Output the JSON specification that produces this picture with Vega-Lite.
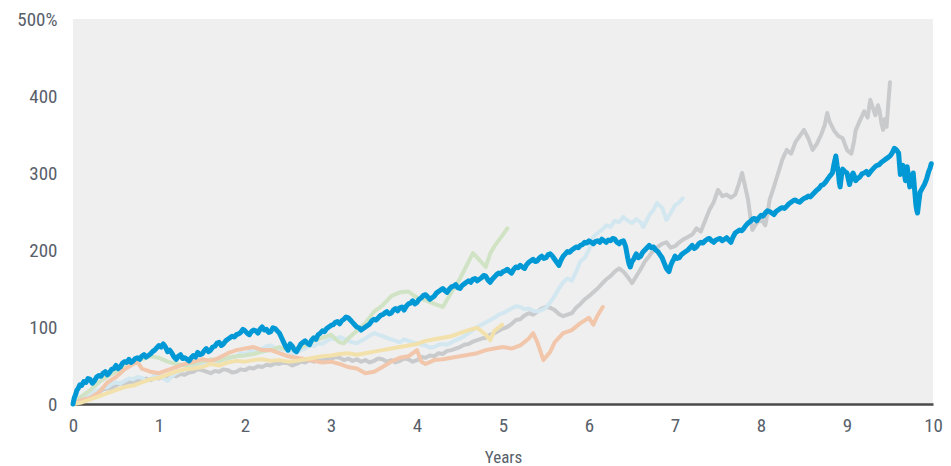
{
"$schema":"https://vega.github.io/schema/vega-lite/v6.json",
"width":860,"height":385,
"autosize":{"type":"none"},
"padding":{"left":73,"top":19,"right":18,"bottom":62},
"background":"#ffffff",
"config":{"view":{"fill":"#efefef","stroke":null},"font":"Roboto Condensed, DejaVu Sans Condensed, Roboto"},
"datasets":{
"pale":[
{"s":"gray","t":0,"v":0},{"s":"gray","t":0.05,"v":4},{"s":"gray","t":0.1,"v":6},{"s":"gray","t":0.15,"v":9},{"s":"gray","t":0.2,"v":10},{"s":"gray","t":0.25,"v":14},{"s":"gray","t":0.3,"v":15},{"s":"gray","t":0.35,"v":19},{"s":"gray","t":0.4,"v":20},{"s":"gray","t":0.45,"v":21},{"s":"gray","t":0.5,"v":24},{"s":"gray","t":0.55,"v":27},{"s":"gray","t":0.6,"v":26},{"s":"gray","t":0.65,"v":29},{"s":"gray","t":0.7,"v":28},{"s":"gray","t":0.75,"v":31},{"s":"gray","t":0.8,"v":30},{"s":"gray","t":0.85,"v":33},{"s":"gray","t":0.9,"v":31},{"s":"gray","t":0.95,"v":34},{"s":"gray","t":1.0,"v":33},{"s":"gray","t":1.05,"v":36},{"s":"gray","t":1.1,"v":34},{"s":"gray","t":1.15,"v":37},{"s":"gray","t":1.2,"v":36},{"s":"gray","t":1.25,"v":39},{"s":"gray","t":1.3,"v":38},{"s":"gray","t":1.35,"v":41},{"s":"gray","t":1.4,"v":42},{"s":"gray","t":1.45,"v":45},{"s":"gray","t":1.5,"v":44},{"s":"gray","t":1.55,"v":42},{"s":"gray","t":1.6,"v":40},{"s":"gray","t":1.65,"v":43},{"s":"gray","t":1.7,"v":42},{"s":"gray","t":1.75,"v":45},{"s":"gray","t":1.8,"v":44},{"s":"gray","t":1.85,"v":41},{"s":"gray","t":1.9,"v":42},{"s":"gray","t":1.95,"v":45},{"s":"gray","t":2.0,"v":44},{"s":"gray","t":2.05,"v":47},{"s":"gray","t":2.1,"v":46},{"s":"gray","t":2.15,"v":49},{"s":"gray","t":2.2,"v":48},{"s":"gray","t":2.25,"v":51},{"s":"gray","t":2.3,"v":50},{"s":"gray","t":2.35,"v":53},{"s":"gray","t":2.4,"v":52},{"s":"gray","t":2.45,"v":54},{"s":"gray","t":2.5,"v":53},{"s":"gray","t":2.55,"v":50},{"s":"gray","t":2.6,"v":52},{"s":"gray","t":2.65,"v":55},{"s":"gray","t":2.7,"v":54},{"s":"gray","t":2.75,"v":57},{"s":"gray","t":2.8,"v":55},{"s":"gray","t":2.85,"v":58},{"s":"gray","t":2.9,"v":56},{"s":"gray","t":2.95,"v":59},{"s":"gray","t":3.0,"v":58},{"s":"gray","t":3.05,"v":61},{"s":"gray","t":3.1,"v":60},{"s":"gray","t":3.15,"v":57},{"s":"gray","t":3.2,"v":59},{"s":"gray","t":3.25,"v":56},{"s":"gray","t":3.3,"v":58},{"s":"gray","t":3.35,"v":55},{"s":"gray","t":3.4,"v":57},{"s":"gray","t":3.45,"v":54},{"s":"gray","t":3.5,"v":56},{"s":"gray","t":3.55,"v":59},{"s":"gray","t":3.6,"v":58},{"s":"gray","t":3.65,"v":55},{"s":"gray","t":3.7,"v":57},{"s":"gray","t":3.75,"v":54},{"s":"gray","t":3.8,"v":56},{"s":"gray","t":3.85,"v":59},{"s":"gray","t":3.9,"v":58},{"s":"gray","t":3.95,"v":55},{"s":"gray","t":4.0,"v":57},{"s":"gray","t":4.05,"v":61},{"s":"gray","t":4.1,"v":60},{"s":"gray","t":4.15,"v":63},{"s":"gray","t":4.2,"v":62},{"s":"gray","t":4.25,"v":66},{"s":"gray","t":4.3,"v":65},{"s":"gray","t":4.35,"v":69},{"s":"gray","t":4.4,"v":70},{"s":"gray","t":4.45,"v":72},{"s":"gray","t":4.5,"v":74},{"s":"gray","t":4.55,"v":77},{"s":"gray","t":4.6,"v":78},{"s":"gray","t":4.65,"v":81},{"s":"gray","t":4.7,"v":83},{"s":"gray","t":4.75,"v":85},{"s":"gray","t":4.8,"v":86},{"s":"gray","t":4.85,"v":90},{"s":"gray","t":4.9,"v":92},{"s":"gray","t":4.95,"v":95},{"s":"gray","t":5.0,"v":98},{"s":"gray","t":5.05,"v":100},{"s":"gray","t":5.1,"v":104},{"s":"gray","t":5.15,"v":109},{"s":"gray","t":5.2,"v":110},{"s":"gray","t":5.25,"v":115},{"s":"gray","t":5.3,"v":118},{"s":"gray","t":5.35,"v":116},{"s":"gray","t":5.4,"v":120},{"s":"gray","t":5.45,"v":124},{"s":"gray","t":5.5,"v":126},{"s":"gray","t":5.55,"v":125},{"s":"gray","t":5.6,"v":122},{"s":"gray","t":5.65,"v":117},{"s":"gray","t":5.7,"v":114},{"s":"gray","t":5.75,"v":116},{"s":"gray","t":5.8,"v":118},{"s":"gray","t":5.85,"v":125},{"s":"gray","t":5.9,"v":130},{"s":"gray","t":5.95,"v":136},{"s":"gray","t":6.0,"v":140},{"s":"gray","t":6.05,"v":145},{"s":"gray","t":6.1,"v":150},{"s":"gray","t":6.15,"v":156},{"s":"gray","t":6.2,"v":162},{"s":"gray","t":6.25,"v":166},{"s":"gray","t":6.3,"v":172},{"s":"gray","t":6.35,"v":176},{"s":"gray","t":6.4,"v":172},{"s":"gray","t":6.45,"v":165},{"s":"gray","t":6.5,"v":157},{"s":"gray","t":6.55,"v":166},{"s":"gray","t":6.6,"v":175},{"s":"gray","t":6.65,"v":185},{"s":"gray","t":6.7,"v":192},{"s":"gray","t":6.75,"v":200},{"s":"gray","t":6.8,"v":204},{"s":"gray","t":6.85,"v":208},{"s":"gray","t":6.9,"v":210},{"s":"gray","t":6.95,"v":203},{"s":"gray","t":7.0,"v":205},{"s":"gray","t":7.05,"v":210},{"s":"gray","t":7.1,"v":214},{"s":"gray","t":7.15,"v":217},{"s":"gray","t":7.2,"v":220},{"s":"gray","t":7.25,"v":228},{"s":"gray","t":7.3,"v":224},{"s":"gray","t":7.35,"v":238},{"s":"gray","t":7.4,"v":252},{"s":"gray","t":7.45,"v":262},{"s":"gray","t":7.5,"v":278},{"s":"gray","t":7.55,"v":270},{"s":"gray","t":7.6,"v":272},{"s":"gray","t":7.65,"v":268},{"s":"gray","t":7.7,"v":272},{"s":"gray","t":7.74,"v":285},{"s":"gray","t":7.78,"v":300},{"s":"gray","t":7.82,"v":280},{"s":"gray","t":7.85,"v":265},{"s":"gray","t":7.88,"v":240},{"s":"gray","t":7.9,"v":226},{"s":"gray","t":7.95,"v":235},{"s":"gray","t":8.0,"v":240},{"s":"gray","t":8.05,"v":232},{"s":"gray","t":8.08,"v":250},{"s":"gray","t":8.1,"v":265},{"s":"gray","t":8.15,"v":282},{"s":"gray","t":8.2,"v":300},{"s":"gray","t":8.25,"v":318},{"s":"gray","t":8.3,"v":330},{"s":"gray","t":8.35,"v":325},{"s":"gray","t":8.4,"v":340},{"s":"gray","t":8.45,"v":348},{"s":"gray","t":8.5,"v":356},{"s":"gray","t":8.55,"v":345},{"s":"gray","t":8.6,"v":330},{"s":"gray","t":8.65,"v":338},{"s":"gray","t":8.7,"v":350},{"s":"gray","t":8.74,"v":362},{"s":"gray","t":8.77,"v":378},{"s":"gray","t":8.8,"v":366},{"s":"gray","t":8.85,"v":355},{"s":"gray","t":8.9,"v":348},{"s":"gray","t":8.95,"v":345},{"s":"gray","t":9.0,"v":330},{"s":"gray","t":9.05,"v":325},{"s":"gray","t":9.08,"v":340},{"s":"gray","t":9.1,"v":355},{"s":"gray","t":9.15,"v":368},{"s":"gray","t":9.2,"v":380},{"s":"gray","t":9.24,"v":372},{"s":"gray","t":9.27,"v":395},{"s":"gray","t":9.3,"v":385},{"s":"gray","t":9.33,"v":375},{"s":"gray","t":9.36,"v":388},{"s":"gray","t":9.38,"v":380},{"s":"gray","t":9.4,"v":365},{"s":"gray","t":9.42,"v":356},{"s":"gray","t":9.44,"v":370},{"s":"gray","t":9.46,"v":360},{"s":"gray","t":9.48,"v":390},{"s":"gray","t":9.5,"v":418},
{"s":"lblue","t":0,"v":0},{"s":"lblue","t":0.05,"v":5},{"s":"lblue","t":0.1,"v":8},{"s":"lblue","t":0.15,"v":11},{"s":"lblue","t":0.2,"v":12},{"s":"lblue","t":0.25,"v":16},{"s":"lblue","t":0.3,"v":18},{"s":"lblue","t":0.35,"v":21},{"s":"lblue","t":0.4,"v":22},{"s":"lblue","t":0.45,"v":26},{"s":"lblue","t":0.5,"v":28},{"s":"lblue","t":0.55,"v":27},{"s":"lblue","t":0.6,"v":30},{"s":"lblue","t":0.65,"v":33},{"s":"lblue","t":0.7,"v":32},{"s":"lblue","t":0.75,"v":35},{"s":"lblue","t":0.8,"v":34},{"s":"lblue","t":0.85,"v":30},{"s":"lblue","t":0.9,"v":32},{"s":"lblue","t":0.95,"v":38},{"s":"lblue","t":1.0,"v":36},{"s":"lblue","t":1.05,"v":33},{"s":"lblue","t":1.1,"v":30},{"s":"lblue","t":1.15,"v":36},{"s":"lblue","t":1.2,"v":40},{"s":"lblue","t":1.25,"v":43},{"s":"lblue","t":1.3,"v":45},{"s":"lblue","t":1.35,"v":46},{"s":"lblue","t":1.4,"v":48},{"s":"lblue","t":1.45,"v":51},{"s":"lblue","t":1.5,"v":52},{"s":"lblue","t":1.55,"v":55},{"s":"lblue","t":1.6,"v":56},{"s":"lblue","t":1.65,"v":53},{"s":"lblue","t":1.7,"v":55},{"s":"lblue","t":1.75,"v":59},{"s":"lblue","t":1.8,"v":58},{"s":"lblue","t":1.85,"v":61},{"s":"lblue","t":1.9,"v":62},{"s":"lblue","t":1.95,"v":66},{"s":"lblue","t":2.0,"v":65},{"s":"lblue","t":2.05,"v":68},{"s":"lblue","t":2.1,"v":70},{"s":"lblue","t":2.15,"v":69},{"s":"lblue","t":2.2,"v":72},{"s":"lblue","t":2.25,"v":75},{"s":"lblue","t":2.3,"v":76},{"s":"lblue","t":2.35,"v":73},{"s":"lblue","t":2.4,"v":70},{"s":"lblue","t":2.45,"v":71},{"s":"lblue","t":2.5,"v":68},{"s":"lblue","t":2.55,"v":65},{"s":"lblue","t":2.6,"v":66},{"s":"lblue","t":2.65,"v":70},{"s":"lblue","t":2.7,"v":72},{"s":"lblue","t":2.75,"v":76},{"s":"lblue","t":2.8,"v":75},{"s":"lblue","t":2.85,"v":79},{"s":"lblue","t":2.9,"v":78},{"s":"lblue","t":2.95,"v":82},{"s":"lblue","t":3.0,"v":85},{"s":"lblue","t":3.05,"v":84},{"s":"lblue","t":3.1,"v":87},{"s":"lblue","t":3.15,"v":85},{"s":"lblue","t":3.2,"v":82},{"s":"lblue","t":3.25,"v":80},{"s":"lblue","t":3.3,"v":79},{"s":"lblue","t":3.35,"v":82},{"s":"lblue","t":3.4,"v":85},{"s":"lblue","t":3.45,"v":89},{"s":"lblue","t":3.5,"v":92},{"s":"lblue","t":3.55,"v":90},{"s":"lblue","t":3.6,"v":88},{"s":"lblue","t":3.65,"v":86},{"s":"lblue","t":3.7,"v":84},{"s":"lblue","t":3.75,"v":82},{"s":"lblue","t":3.8,"v":80},{"s":"lblue","t":3.85,"v":84},{"s":"lblue","t":3.9,"v":82},{"s":"lblue","t":3.95,"v":80},{"s":"lblue","t":4.0,"v":79},{"s":"lblue","t":4.05,"v":77},{"s":"lblue","t":4.1,"v":76},{"s":"lblue","t":4.15,"v":73},{"s":"lblue","t":4.2,"v":74},{"s":"lblue","t":4.25,"v":77},{"s":"lblue","t":4.3,"v":78},{"s":"lblue","t":4.35,"v":77},{"s":"lblue","t":4.4,"v":80},{"s":"lblue","t":4.45,"v":83},{"s":"lblue","t":4.5,"v":85},{"s":"lblue","t":4.55,"v":88},{"s":"lblue","t":4.6,"v":92},{"s":"lblue","t":4.65,"v":96},{"s":"lblue","t":4.7,"v":100},{"s":"lblue","t":4.75,"v":103},{"s":"lblue","t":4.8,"v":106},{"s":"lblue","t":4.85,"v":109},{"s":"lblue","t":4.9,"v":112},{"s":"lblue","t":4.95,"v":116},{"s":"lblue","t":5.0,"v":118},{"s":"lblue","t":5.05,"v":121},{"s":"lblue","t":5.1,"v":124},{"s":"lblue","t":5.15,"v":127},{"s":"lblue","t":5.2,"v":126},{"s":"lblue","t":5.25,"v":123},{"s":"lblue","t":5.3,"v":124},{"s":"lblue","t":5.35,"v":121},{"s":"lblue","t":5.4,"v":120},{"s":"lblue","t":5.45,"v":122},{"s":"lblue","t":5.5,"v":125},{"s":"lblue","t":5.55,"v":132},{"s":"lblue","t":5.6,"v":140},{"s":"lblue","t":5.65,"v":150},{"s":"lblue","t":5.7,"v":158},{"s":"lblue","t":5.75,"v":163},{"s":"lblue","t":5.8,"v":160},{"s":"lblue","t":5.85,"v":172},{"s":"lblue","t":5.9,"v":185},{"s":"lblue","t":5.95,"v":190},{"s":"lblue","t":6.0,"v":200},{"s":"lblue","t":6.05,"v":217},{"s":"lblue","t":6.1,"v":222},{"s":"lblue","t":6.15,"v":226},{"s":"lblue","t":6.2,"v":232},{"s":"lblue","t":6.25,"v":230},{"s":"lblue","t":6.3,"v":238},{"s":"lblue","t":6.35,"v":236},{"s":"lblue","t":6.4,"v":243},{"s":"lblue","t":6.45,"v":238},{"s":"lblue","t":6.5,"v":235},{"s":"lblue","t":6.55,"v":240},{"s":"lblue","t":6.6,"v":236},{"s":"lblue","t":6.63,"v":230},{"s":"lblue","t":6.67,"v":238},{"s":"lblue","t":6.7,"v":245},{"s":"lblue","t":6.75,"v":252},{"s":"lblue","t":6.79,"v":261},{"s":"lblue","t":6.85,"v":255},{"s":"lblue","t":6.9,"v":239},{"s":"lblue","t":6.95,"v":248},{"s":"lblue","t":7.0,"v":258},{"s":"lblue","t":7.05,"v":262},{"s":"lblue","t":7.09,"v":267},
{"s":"green","t":0,"v":0},{"s":"green","t":0.1,"v":10},{"s":"green","t":0.2,"v":18},{"s":"green","t":0.3,"v":28},{"s":"green","t":0.4,"v":36},{"s":"green","t":0.5,"v":42},{"s":"green","t":0.6,"v":48},{"s":"green","t":0.7,"v":55},{"s":"green","t":0.8,"v":58},{"s":"green","t":0.9,"v":62},{"s":"green","t":1.0,"v":60},{"s":"green","t":1.1,"v":55},{"s":"green","t":1.2,"v":52},{"s":"green","t":1.3,"v":50},{"s":"green","t":1.4,"v":52},{"s":"green","t":1.5,"v":55},{"s":"green","t":1.6,"v":58},{"s":"green","t":1.7,"v":56},{"s":"green","t":1.8,"v":60},{"s":"green","t":1.9,"v":62},{"s":"green","t":2.0,"v":63},{"s":"green","t":2.1,"v":65},{"s":"green","t":2.2,"v":68},{"s":"green","t":2.3,"v":70},{"s":"green","t":2.4,"v":74},{"s":"green","t":2.5,"v":70},{"s":"green","t":2.6,"v":72},{"s":"green","t":2.7,"v":76},{"s":"green","t":2.8,"v":82},{"s":"green","t":2.9,"v":86},{"s":"green","t":3.0,"v":90},{"s":"green","t":3.1,"v":80},{"s":"green","t":3.15,"v":79},{"s":"green","t":3.2,"v":85},{"s":"green","t":3.3,"v":95},{"s":"green","t":3.4,"v":105},{"s":"green","t":3.5,"v":120},{"s":"green","t":3.6,"v":128},{"s":"green","t":3.7,"v":140},{"s":"green","t":3.8,"v":145},{"s":"green","t":3.9,"v":146},{"s":"green","t":4.0,"v":138},{"s":"green","t":4.1,"v":135},{"s":"green","t":4.2,"v":130},{"s":"green","t":4.3,"v":126},{"s":"green","t":4.4,"v":145},{"s":"green","t":4.5,"v":163},{"s":"green","t":4.6,"v":185},{"s":"green","t":4.65,"v":196},{"s":"green","t":4.7,"v":190},{"s":"green","t":4.8,"v":178},{"s":"green","t":4.85,"v":195},{"s":"green","t":4.9,"v":205},{"s":"green","t":5.0,"v":220},{"s":"green","t":5.05,"v":228},
{"s":"orange","t":0,"v":0},{"s":"orange","t":0.1,"v":5},{"s":"orange","t":0.2,"v":8},{"s":"orange","t":0.3,"v":15},{"s":"orange","t":0.4,"v":28},{"s":"orange","t":0.5,"v":35},{"s":"orange","t":0.6,"v":45},{"s":"orange","t":0.7,"v":52},{"s":"orange","t":0.75,"v":55},{"s":"orange","t":0.8,"v":46},{"s":"orange","t":0.9,"v":42},{"s":"orange","t":1.0,"v":40},{"s":"orange","t":1.1,"v":44},{"s":"orange","t":1.2,"v":48},{"s":"orange","t":1.3,"v":52},{"s":"orange","t":1.4,"v":55},{"s":"orange","t":1.5,"v":58},{"s":"orange","t":1.6,"v":56},{"s":"orange","t":1.7,"v":60},{"s":"orange","t":1.8,"v":66},{"s":"orange","t":1.9,"v":70},{"s":"orange","t":2.0,"v":72},{"s":"orange","t":2.1,"v":74},{"s":"orange","t":2.2,"v":70},{"s":"orange","t":2.3,"v":70},{"s":"orange","t":2.4,"v":66},{"s":"orange","t":2.5,"v":62},{"s":"orange","t":2.6,"v":60},{"s":"orange","t":2.7,"v":58},{"s":"orange","t":2.8,"v":56},{"s":"orange","t":2.9,"v":54},{"s":"orange","t":3.0,"v":55},{"s":"orange","t":3.1,"v":52},{"s":"orange","t":3.2,"v":48},{"s":"orange","t":3.3,"v":46},{"s":"orange","t":3.4,"v":40},{"s":"orange","t":3.5,"v":42},{"s":"orange","t":3.6,"v":48},{"s":"orange","t":3.7,"v":55},{"s":"orange","t":3.8,"v":60},{"s":"orange","t":3.9,"v":62},{"s":"orange","t":4.0,"v":70},{"s":"orange","t":4.05,"v":55},{"s":"orange","t":4.1,"v":52},{"s":"orange","t":4.2,"v":57},{"s":"orange","t":4.3,"v":58},{"s":"orange","t":4.4,"v":60},{"s":"orange","t":4.5,"v":62},{"s":"orange","t":4.6,"v":64},{"s":"orange","t":4.7,"v":66},{"s":"orange","t":4.8,"v":70},{"s":"orange","t":4.9,"v":72},{"s":"orange","t":5.0,"v":74},{"s":"orange","t":5.1,"v":72},{"s":"orange","t":5.2,"v":76},{"s":"orange","t":5.3,"v":85},{"s":"orange","t":5.35,"v":92},{"s":"orange","t":5.4,"v":80},{"s":"orange","t":5.47,"v":57},{"s":"orange","t":5.55,"v":68},{"s":"orange","t":5.6,"v":80},{"s":"orange","t":5.7,"v":92},{"s":"orange","t":5.8,"v":96},{"s":"orange","t":5.9,"v":105},{"s":"orange","t":6.0,"v":112},{"s":"orange","t":6.05,"v":103},{"s":"orange","t":6.1,"v":115},{"s":"orange","t":6.16,"v":126},
{"s":"yellow","t":0,"v":0},{"s":"yellow","t":0.1,"v":2},{"s":"yellow","t":0.2,"v":6},{"s":"yellow","t":0.3,"v":10},{"s":"yellow","t":0.4,"v":14},{"s":"yellow","t":0.5,"v":18},{"s":"yellow","t":0.6,"v":22},{"s":"yellow","t":0.7,"v":24},{"s":"yellow","t":0.8,"v":28},{"s":"yellow","t":0.9,"v":32},{"s":"yellow","t":1.0,"v":34},{"s":"yellow","t":1.1,"v":38},{"s":"yellow","t":1.2,"v":42},{"s":"yellow","t":1.3,"v":45},{"s":"yellow","t":1.4,"v":46},{"s":"yellow","t":1.5,"v":48},{"s":"yellow","t":1.6,"v":52},{"s":"yellow","t":1.7,"v":50},{"s":"yellow","t":1.8,"v":54},{"s":"yellow","t":1.9,"v":56},{"s":"yellow","t":2.0,"v":55},{"s":"yellow","t":2.1,"v":57},{"s":"yellow","t":2.2,"v":58},{"s":"yellow","t":2.3,"v":56},{"s":"yellow","t":2.4,"v":57},{"s":"yellow","t":2.5,"v":55},{"s":"yellow","t":2.6,"v":56},{"s":"yellow","t":2.7,"v":58},{"s":"yellow","t":2.8,"v":60},{"s":"yellow","t":2.9,"v":62},{"s":"yellow","t":3.0,"v":63},{"s":"yellow","t":3.1,"v":65},{"s":"yellow","t":3.2,"v":66},{"s":"yellow","t":3.3,"v":64},{"s":"yellow","t":3.4,"v":66},{"s":"yellow","t":3.5,"v":68},{"s":"yellow","t":3.6,"v":70},{"s":"yellow","t":3.7,"v":72},{"s":"yellow","t":3.8,"v":74},{"s":"yellow","t":3.9,"v":76},{"s":"yellow","t":4.0,"v":78},{"s":"yellow","t":4.1,"v":82},{"s":"yellow","t":4.2,"v":84},{"s":"yellow","t":4.3,"v":86},{"s":"yellow","t":4.4,"v":88},{"s":"yellow","t":4.5,"v":92},{"s":"yellow","t":4.6,"v":96},{"s":"yellow","t":4.7,"v":99},{"s":"yellow","t":4.8,"v":90},{"s":"yellow","t":4.85,"v":83},{"s":"yellow","t":4.9,"v":95},{"s":"yellow","t":4.99,"v":103}
],
"main":[
{"t":0,"v":0},{"t":0.015,"v":8},{"t":0.03,"v":12},{"t":0.045,"v":18},{"t":0.06,"v":20},{"t":0.08,"v":25},{"t":0.1,"v":24},{"t":0.125,"v":29},{"t":0.15,"v":28},{"t":0.175,"v":33},{"t":0.2,"v":32},{"t":0.225,"v":27},{"t":0.25,"v":30},{"t":0.275,"v":35},{"t":0.3,"v":37},{"t":0.325,"v":36},{"t":0.35,"v":40},{"t":0.375,"v":42},{"t":0.4,"v":38},{"t":0.425,"v":41},{"t":0.45,"v":45},{"t":0.475,"v":46},{"t":0.5,"v":50},{"t":0.525,"v":46},{"t":0.55,"v":48},{"t":0.575,"v":53},{"t":0.6,"v":55},{"t":0.625,"v":54},{"t":0.65,"v":58},{"t":0.675,"v":54},{"t":0.7,"v":56},{"t":0.725,"v":59},{"t":0.75,"v":60},{"t":0.775,"v":58},{"t":0.8,"v":62},{"t":0.825,"v":64},{"t":0.85,"v":61},{"t":0.875,"v":63},{"t":0.9,"v":65},{"t":0.925,"v":68},{"t":0.95,"v":70},{"t":0.975,"v":73},{"t":1.0,"v":76},{"t":1.025,"v":74},{"t":1.05,"v":78},{"t":1.075,"v":74},{"t":1.1,"v":68},{"t":1.125,"v":70},{"t":1.15,"v":66},{"t":1.175,"v":61},{"t":1.2,"v":58},{"t":1.225,"v":62},{"t":1.25,"v":64},{"t":1.275,"v":59},{"t":1.3,"v":60},{"t":1.325,"v":58},{"t":1.35,"v":56},{"t":1.375,"v":60},{"t":1.4,"v":63},{"t":1.425,"v":61},{"t":1.45,"v":67},{"t":1.475,"v":64},{"t":1.5,"v":65},{"t":1.525,"v":69},{"t":1.55,"v":72},{"t":1.575,"v":68},{"t":1.6,"v":70},{"t":1.625,"v":74},{"t":1.65,"v":75},{"t":1.675,"v":79},{"t":1.7,"v":80},{"t":1.725,"v":76},{"t":1.75,"v":78},{"t":1.775,"v":82},{"t":1.8,"v":84},{"t":1.825,"v":86},{"t":1.85,"v":88},{"t":1.875,"v":87},{"t":1.9,"v":90},{"t":1.925,"v":91},{"t":1.95,"v":93},{"t":1.975,"v":97},{"t":2.0,"v":95},{"t":2.025,"v":92},{"t":2.05,"v":90},{"t":2.075,"v":94},{"t":2.1,"v":96},{"t":2.125,"v":95},{"t":2.15,"v":92},{"t":2.175,"v":97},{"t":2.2,"v":100},{"t":2.225,"v":96},{"t":2.25,"v":97},{"t":2.275,"v":93},{"t":2.3,"v":94},{"t":2.325,"v":99},{"t":2.35,"v":98},{"t":2.375,"v":95},{"t":2.4,"v":92},{"t":2.425,"v":86},{"t":2.45,"v":80},{"t":2.475,"v":74},{"t":2.5,"v":70},{"t":2.525,"v":78},{"t":2.55,"v":75},{"t":2.575,"v":70},{"t":2.6,"v":68},{"t":2.625,"v":73},{"t":2.65,"v":78},{"t":2.675,"v":80},{"t":2.7,"v":82},{"t":2.725,"v":79},{"t":2.75,"v":77},{"t":2.775,"v":83},{"t":2.8,"v":86},{"t":2.825,"v":84},{"t":2.85,"v":90},{"t":2.875,"v":92},{"t":2.9,"v":95},{"t":2.925,"v":94},{"t":2.95,"v":98},{"t":2.975,"v":100},{"t":3.0,"v":102},{"t":3.025,"v":103},{"t":3.05,"v":106},{"t":3.075,"v":107},{"t":3.1,"v":104},{"t":3.125,"v":108},{"t":3.15,"v":110},{"t":3.175,"v":113},{"t":3.2,"v":112},{"t":3.225,"v":109},{"t":3.25,"v":106},{"t":3.275,"v":103},{"t":3.3,"v":100},{"t":3.325,"v":99},{"t":3.35,"v":96},{"t":3.375,"v":98},{"t":3.4,"v":100},{"t":3.425,"v":102},{"t":3.45,"v":104},{"t":3.475,"v":108},{"t":3.5,"v":110},{"t":3.525,"v":109},{"t":3.55,"v":112},{"t":3.575,"v":115},{"t":3.6,"v":116},{"t":3.625,"v":118},{"t":3.65,"v":120},{"t":3.675,"v":117},{"t":3.7,"v":118},{"t":3.725,"v":122},{"t":3.75,"v":124},{"t":3.775,"v":121},{"t":3.8,"v":125},{"t":3.825,"v":126},{"t":3.85,"v":122},{"t":3.875,"v":127},{"t":3.9,"v":130},{"t":3.925,"v":131},{"t":3.95,"v":134},{"t":3.975,"v":130},{"t":4.0,"v":132},{"t":4.025,"v":136},{"t":4.05,"v":138},{"t":4.075,"v":141},{"t":4.1,"v":142},{"t":4.125,"v":139},{"t":4.15,"v":136},{"t":4.175,"v":138},{"t":4.2,"v":140},{"t":4.225,"v":144},{"t":4.25,"v":146},{"t":4.275,"v":148},{"t":4.3,"v":150},{"t":4.325,"v":147},{"t":4.35,"v":145},{"t":4.375,"v":149},{"t":4.4,"v":152},{"t":4.425,"v":153},{"t":4.45,"v":155},{"t":4.475,"v":151},{"t":4.5,"v":150},{"t":4.525,"v":154},{"t":4.55,"v":156},{"t":4.575,"v":158},{"t":4.6,"v":160},{"t":4.625,"v":158},{"t":4.65,"v":162},{"t":4.675,"v":163},{"t":4.7,"v":160},{"t":4.725,"v":162},{"t":4.75,"v":164},{"t":4.775,"v":167},{"t":4.8,"v":166},{"t":4.825,"v":161},{"t":4.85,"v":158},{"t":4.875,"v":162},{"t":4.9,"v":165},{"t":4.925,"v":168},{"t":4.95,"v":170},{"t":4.975,"v":169},{"t":5.0,"v":172},{"t":5.025,"v":173},{"t":5.05,"v":175},{"t":5.075,"v":172},{"t":5.1,"v":170},{"t":5.125,"v":175},{"t":5.15,"v":178},{"t":5.175,"v":177},{"t":5.2,"v":180},{"t":5.225,"v":178},{"t":5.25,"v":176},{"t":5.275,"v":181},{"t":5.3,"v":184},{"t":5.325,"v":186},{"t":5.35,"v":188},{"t":5.375,"v":185},{"t":5.4,"v":186},{"t":5.425,"v":190},{"t":5.45,"v":192},{"t":5.475,"v":189},{"t":5.5,"v":190},{"t":5.525,"v":194},{"t":5.55,"v":195},{"t":5.575,"v":192},{"t":5.6,"v":188},{"t":5.625,"v":184},{"t":5.65,"v":180},{"t":5.675,"v":187},{"t":5.7,"v":192},{"t":5.725,"v":195},{"t":5.75,"v":198},{"t":5.775,"v":197},{"t":5.8,"v":200},{"t":5.825,"v":202},{"t":5.85,"v":204},{"t":5.875,"v":203},{"t":5.9,"v":206},{"t":5.925,"v":207},{"t":5.95,"v":210},{"t":5.975,"v":209},{"t":6.0,"v":212},{"t":6.025,"v":210},{"t":6.05,"v":208},{"t":6.075,"v":211},{"t":6.1,"v":212},{"t":6.125,"v":210},{"t":6.15,"v":214},{"t":6.175,"v":212},{"t":6.2,"v":210},{"t":6.225,"v":213},{"t":6.25,"v":212},{"t":6.275,"v":215},{"t":6.3,"v":214},{"t":6.325,"v":210},{"t":6.35,"v":208},{"t":6.375,"v":211},{"t":6.4,"v":212},{"t":6.425,"v":205},{"t":6.45,"v":190},{"t":6.465,"v":182},{"t":6.48,"v":178},{"t":6.5,"v":185},{"t":6.52,"v":188},{"t":6.535,"v":192},{"t":6.55,"v":195},{"t":6.575,"v":190},{"t":6.6,"v":192},{"t":6.625,"v":197},{"t":6.65,"v":200},{"t":6.675,"v":203},{"t":6.7,"v":206},{"t":6.725,"v":203},{"t":6.75,"v":204},{"t":6.775,"v":200},{"t":6.8,"v":198},{"t":6.825,"v":194},{"t":6.85,"v":190},{"t":6.875,"v":183},{"t":6.9,"v":176},{"t":6.915,"v":174},{"t":6.93,"v":172},{"t":6.95,"v":180},{"t":6.97,"v":185},{"t":6.985,"v":188},{"t":7.0,"v":192},{"t":7.025,"v":189},{"t":7.05,"v":190},{"t":7.075,"v":194},{"t":7.1,"v":196},{"t":7.125,"v":198},{"t":7.15,"v":200},{"t":7.175,"v":203},{"t":7.2,"v":206},{"t":7.225,"v":202},{"t":7.25,"v":204},{"t":7.275,"v":208},{"t":7.3,"v":210},{"t":7.325,"v":209},{"t":7.35,"v":212},{"t":7.375,"v":214},{"t":7.4,"v":215},{"t":7.425,"v":212},{"t":7.45,"v":210},{"t":7.475,"v":213},{"t":7.5,"v":214},{"t":7.525,"v":215},{"t":7.55,"v":212},{"t":7.575,"v":214},{"t":7.6,"v":216},{"t":7.625,"v":213},{"t":7.65,"v":210},{"t":7.675,"v":217},{"t":7.7,"v":222},{"t":7.725,"v":224},{"t":7.75,"v":226},{"t":7.775,"v":225},{"t":7.8,"v":228},{"t":7.825,"v":232},{"t":7.85,"v":235},{"t":7.875,"v":237},{"t":7.9,"v":240},{"t":7.925,"v":241},{"t":7.95,"v":238},{"t":7.975,"v":242},{"t":8.0,"v":245},{"t":8.025,"v":244},{"t":8.05,"v":248},{"t":8.075,"v":251},{"t":8.1,"v":250},{"t":8.125,"v":248},{"t":8.15,"v":246},{"t":8.175,"v":250},{"t":8.2,"v":252},{"t":8.225,"v":254},{"t":8.25,"v":255},{"t":8.275,"v":254},{"t":8.3,"v":257},{"t":8.325,"v":260},{"t":8.35,"v":262},{"t":8.375,"v":264},{"t":8.4,"v":265},{"t":8.425,"v":263},{"t":8.45,"v":262},{"t":8.475,"v":265},{"t":8.5,"v":267},{"t":8.525,"v":268},{"t":8.55,"v":270},{"t":8.575,"v":269},{"t":8.6,"v":272},{"t":8.625,"v":275},{"t":8.65,"v":278},{"t":8.675,"v":280},{"t":8.7,"v":284},{"t":8.725,"v":285},{"t":8.75,"v":288},{"t":8.775,"v":292},{"t":8.8,"v":296},{"t":8.815,"v":298},{"t":8.83,"v":300},{"t":8.85,"v":312},{"t":8.87,"v":322},{"t":8.885,"v":310},{"t":8.9,"v":300},{"t":8.91,"v":288},{"t":8.92,"v":282},{"t":8.935,"v":296},{"t":8.95,"v":305},{"t":8.975,"v":302},{"t":9.0,"v":300},{"t":9.015,"v":292},{"t":9.03,"v":285},{"t":9.05,"v":295},{"t":9.07,"v":300},{"t":9.085,"v":296},{"t":9.1,"v":290},{"t":9.125,"v":293},{"t":9.15,"v":295},{"t":9.175,"v":299},{"t":9.2,"v":300},{"t":9.225,"v":302},{"t":9.25,"v":298},{"t":9.275,"v":302},{"t":9.3,"v":305},{"t":9.325,"v":308},{"t":9.35,"v":310},{"t":9.375,"v":311},{"t":9.4,"v":314},{"t":9.425,"v":316},{"t":9.45,"v":318},{"t":9.475,"v":320},{"t":9.5,"v":322},{"t":9.525,"v":326},{"t":9.55,"v":332},{"t":9.575,"v":330},{"t":9.6,"v":326},{"t":9.61,"v":312},{"t":9.62,"v":298},{"t":9.635,"v":305},{"t":9.65,"v":310},{"t":9.665,"v":300},{"t":9.68,"v":290},{"t":9.69,"v":300},{"t":9.7,"v":308},{"t":9.715,"v":295},{"t":9.73,"v":282},{"t":9.75,"v":292},{"t":9.77,"v":300},{"t":9.785,"v":280},{"t":9.8,"v":260},{"t":9.81,"v":252},{"t":9.82,"v":248},{"t":9.835,"v":262},{"t":9.85,"v":275},{"t":9.875,"v":280},{"t":9.9,"v":285},{"t":9.925,"v":292},{"t":9.95,"v":302},{"t":9.965,"v":306},{"t":9.98,"v":312}
]},
"encoding":{
"x":{"field":"t","type":"quantitative","scale":{"domain":[0,10],"nice":false},
"axis":{"values":[0,1,2,3,4,5,6,7,8,9,10],"grid":false,"ticks":false,"domain":true,"domainColor":"#4a4a4a","domainWidth":2.5,"labelFlush":false,"labelFontSize":19,"labelFontWeight":"normal","labelColor":"#58606a","labelPadding":12,"title":"Years","titleFontSize":17,"titleFontWeight":"normal","titleColor":"#58606a","titlePadding":14}},
"y":{"field":"v","type":"quantitative","scale":{"domain":[0,500],"nice":false},
"axis":{"values":[0,100,200,300,400,500],"grid":false,"ticks":false,"domain":false,"labelFlush":false,"labelFontSize":19,"labelFontWeight":"normal","labelColor":"#58606a","labelPadding":16,"title":null,"labelExpr":"datum.value==500?'500%':datum.label"}}
},
"layer":[
{"data":{"name":"pale"},"mark":{"type":"line","strokeWidth":4,"strokeJoin":"round","strokeCap":"round"},
"encoding":{"color":{"field":"s","type":"nominal","legend":null,"scale":{"domain":["gray","lblue","green","orange","yellow"],"range":["#c9cacc","#d2e7ef","#d0e3c4","#f2c6ab","#f3e1ab"]}},"detail":{"field":"s"}}},
{"data":{"name":"main"},"mark":{"type":"line","strokeWidth":5,"strokeJoin":"round","strokeCap":"round","color":"#0099d6"},"encoding":{}}
]
}
